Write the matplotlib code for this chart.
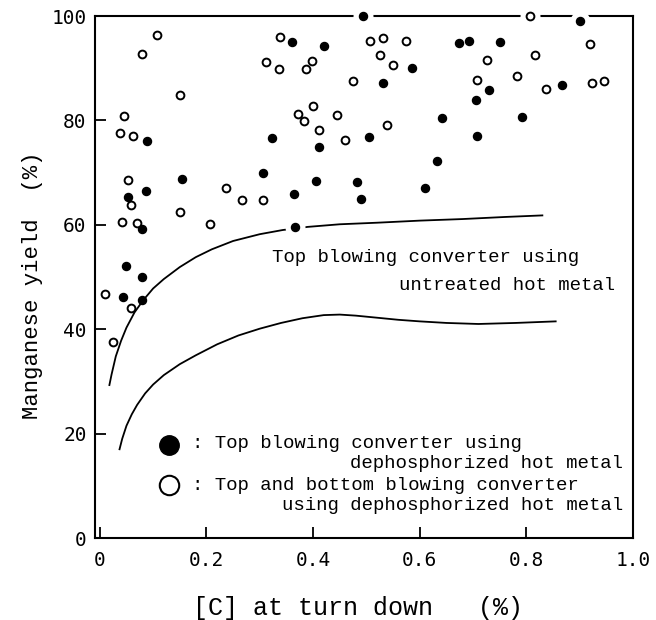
import matplotlib
matplotlib.use("Agg")
import matplotlib.pyplot as plt
import numpy as np

# ---- data ----
filled_x = [0.088, 0.323, 0.306, 0.155, 0.086, 0.053, 0.080, 0.050, 0.080, 0.044, 0.080,
            0.493, 0.361, 0.421, 0.673, 0.693, 0.585, 0.531, 0.705, 0.642, 0.505, 0.412,
            0.708, 0.632, 0.406, 0.482, 0.610, 0.364, 0.490, 0.366,
            0.901, 0.751, 0.729, 0.867, 0.792]
filled_y = [76.1, 76.7, 69.9, 68.7, 66.4, 65.4, 59.1, 52.2, 50.0, 46.2, 45.6,
            100.0, 95.0, 94.3, 94.9, 95.2, 90.1, 87.1, 83.9, 80.4, 76.9, 74.9,
            77.1, 72.3, 68.3, 68.2, 67.1, 65.9, 64.9, 59.5,
            99.0, 95.1, 85.9, 86.8, 80.7]

open_x = [0.108, 0.080, 0.151, 0.045, 0.037, 0.063, 0.338, 0.311, 0.336, 0.053, 0.236,
          0.059, 0.267, 0.307, 0.150, 0.041, 0.069, 0.207, 0.010, 0.058, 0.025,
          0.506, 0.532, 0.574, 0.526, 0.398, 0.387, 0.549, 0.474, 0.708, 0.399,
          0.371, 0.383, 0.445, 0.411, 0.539, 0.459,
          0.807, 0.920, 0.726, 0.816, 0.782, 0.836, 0.923, 0.946]
open_y = [96.3, 92.7, 84.8, 80.9, 77.5, 77.0, 95.9, 91.1, 89.9, 68.5, 67.1,
          63.8, 64.8, 64.8, 62.5, 60.6, 60.4, 60.2, 46.7, 44.0, 37.5,
          95.3, 95.7, 95.3, 92.5, 91.4, 89.9, 90.6, 87.5, 87.8, 82.7,
          81.3, 79.9, 81.0, 78.2, 79.2, 76.3,
          100.0, 94.6, 91.5, 92.5, 88.6, 86.1, 87.2, 87.6]

upper_x = [0.018, 0.022, 0.030, 0.040, 0.050, 0.065, 0.081, 0.100, 0.120, 0.150, 0.180,
           0.210, 0.250, 0.300, 0.343, 0.390, 0.450, 0.520, 0.600, 0.680, 0.760, 0.830]
upper_y = [29.3, 31.3, 34.8, 37.8, 40.3, 43.2, 45.5, 47.8, 49.6, 51.9, 53.8,
           55.3, 56.9, 58.2, 59.0, 59.6, 60.1, 60.4, 60.8, 61.1, 61.5, 61.8]

lower_x = [0.037, 0.042, 0.050, 0.060, 0.070, 0.085, 0.100, 0.120, 0.150, 0.180, 0.220,
           0.260, 0.300, 0.340, 0.380, 0.420, 0.450, 0.480, 0.520, 0.560, 0.600, 0.650,
           0.710, 0.780, 0.855]
lower_y = [17.0, 19.0, 21.5, 23.7, 25.5, 27.7, 29.4, 31.2, 33.3, 35.0, 37.1,
           38.8, 40.1, 41.2, 42.1, 42.7, 42.8, 42.6, 42.2, 41.8, 41.5, 41.2,
           41.0, 41.2, 41.5]

x_ticks = [0, 0.2, 0.4, 0.6, 0.8, 1.0]
x_tick_labels = ["0", "0.2", "0.4", "0.6", "0.8", "1.0"]
y_ticks = [0, 20, 40, 60, 80, 100]
y_tick_labels = ["0", "20", "40", "60", "80", "100"]

curve_text = ["Top blowing converter using", "untreated hot metal"]
legend_text = [": Top blowing converter using", "dephosphorized hot metal",
               ": Top and bottom blowing converter", "using dephosphorized hot metal"]
x_label = "[C] at turn down   (%)"
y_label = "Manganese yield  (%)"

# ---- figure ----
W, H = 656, 620
fig = plt.figure(figsize=(W / 100, H / 100), dpi=100)
ax = fig.add_axes([95 / W, 1 - 538 / H, (633 - 95) / W, (538 - 16) / H])
ax.set_xlim(-0.009, 1.0)
ax.set_ylim(0, 100)

mono = "Liberation Mono"

for s in ax.spines.values():
    s.set_linewidth(1.5)
    s.set_zorder(2.5)

ax.plot(upper_x, upper_y, color="black", lw=1.3, zorder=2, solid_joinstyle="round")
ax.plot(lower_x, lower_y, color="black", lw=1.3, zorder=2, solid_joinstyle="round")

# white halos (gaps in spine / curve around some points)
fx = np.array(filled_x); fy = np.array(filled_y)
ox = np.array(open_x); oy = np.array(open_y)
ax_all = np.concatenate([fx, ox]); ay_all = np.concatenate([fy, oy])
near_curve = (ax_all > 0.3) & (np.abs(ay_all - np.interp(ax_all, upper_x, upper_y)) < 1.0)
halo = (ay_all >= 98) | near_curve
ax.scatter(ax_all[halo], ay_all[halo], s=(20 * 0.72) ** 2, color="white",
           linewidths=0, zorder=3, clip_on=False)

ax.plot(fx, fy, "o", ms=5.8, color="black", zorder=5, clip_on=False)
ax.plot(ox, oy, "o", ms=5.6, mfc="white", mec="black", mew=1.4, zorder=5, clip_on=False)

ax.set_xticks(x_ticks)
ax.set_xticklabels(x_tick_labels)
ax.set_yticks(y_ticks)
ax.set_yticklabels(y_tick_labels)
ax.tick_params(direction="in", length=8, width=1.3, labelsize=14)
ax.tick_params(axis="x", pad=9)
ax.tick_params(axis="y", pad=6)
for lab in ax.get_xticklabels() + ax.get_yticklabels():
    lab.set_family("DejaVu Sans Mono")

# curve annotation
fig.text(271.5 / W, 1 - 258 / H, curve_text[0], family=mono, fontsize=13.7,
         ha="left", va="center")
fig.text(615 / W, 1 - 286 / H, curve_text[1], family=mono, fontsize=13.7,
         ha="right", va="center")

# legend
fig.lines.append(plt.Line2D([169 / W], [1 - 445 / H], marker="o", ms=14, color="black",
                            transform=fig.transFigure))
fig.lines.append(plt.Line2D([169 / W], [1 - 485 / H], marker="o", ms=14, mfc="white",
                            mec="black", mew=1.5, transform=fig.transFigure))
fig.text(191.5 / W, 1 - 443 / H, legend_text[0], family=mono, fontsize=13.7,
         ha="left", va="center")
fig.text(623 / W, 1 - 463 / H, legend_text[1], family=mono, fontsize=13.7,
         ha="right", va="center")
fig.text(191.5 / W, 1 - 485 / H, legend_text[2], family=mono, fontsize=13.7,
         ha="left", va="center")
fig.text(623 / W, 1 - 505 / H, legend_text[3], family=mono, fontsize=13.7,
         ha="right", va="center")

# axis labels
fig.text(358 / W, 1 - 608 / H, x_label, family=mono, fontsize=18, ha="center", va="center")
fig.text(33 / W, 1 - 285 / H, y_label, family=mono, fontsize=16, ha="center", va="center",
         rotation=90)

fig.savefig("out.png", dpi=100)
